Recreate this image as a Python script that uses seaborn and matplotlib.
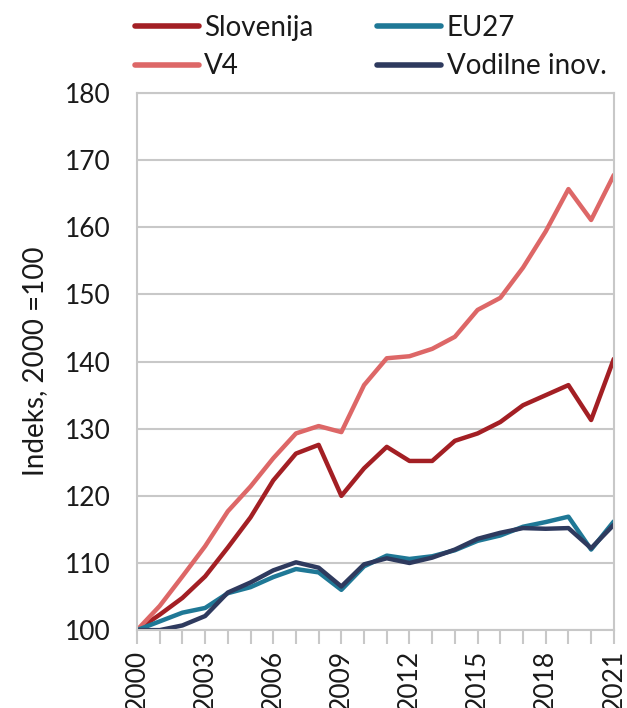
import numpy as np
import pandas as pd
import matplotlib
matplotlib.use("Agg")
import matplotlib.pyplot as plt
from matplotlib.ticker import MultipleLocator
import seaborn as sns

# ----- data -----
years = list(range(2000, 2022))
slovenija = [100, 102.3, 104.8, 108.0, 112.3, 116.8, 122.3, 126.3, 127.6, 120.0, 124.1, 127.3,
             125.2, 125.2, 128.2, 129.3, 131.0, 133.5, 135.0, 136.5, 131.3, 140.4]
v4 = [100, 103.6, 108.0, 112.5, 117.7, 121.4, 125.6, 129.3, 130.4, 129.5, 136.5, 140.5,
      140.8, 141.9, 143.7, 147.7, 149.5, 154.0, 159.4, 165.7, 161.1, 167.8]
eu27 = [100, 101.3, 102.6, 103.3, 105.5, 106.4, 107.9, 109.1, 108.6, 106.0, 109.5, 111.1,
        110.6, 111.0, 111.9, 113.3, 114.1, 115.4, 116.1, 116.9, 112.0, 116.2]
vodilne = [100, 100.0, 100.7, 102.1, 105.6, 107.1, 108.9, 110.1, 109.3, 106.5, 109.8, 110.7,
           110.0, 110.8, 112.0, 113.6, 114.5, 115.2, 115.1, 115.2, 112.2, 115.7]
# order = column-wise legend fill (row 1: Slovenija, EU27; row 2: V4, Vodilne inov.)
series_names = ["Slovenija", "V4", "EU27", "Vodilne inov."]
colors = ["#a31f24", "#dd6767", "#1f7896", "#2e3a5e"]
tick_years = [2000, 2003, 2006, 2009, 2012, 2015, 2018, 2021]

df = pd.DataFrame({"Leto": years * 4,
                   "Indeks": slovenija + v4 + eu27 + vodilne,
                   "Serija": sum([[n] * len(years) for n in series_names], [])})

sns.set_style("white")
plt.rcParams["font.family"] = ["Lato", "DejaVu Sans"]

fig = plt.figure(figsize=(6.27, 7.08), dpi=100)
ax = fig.add_axes([0.2185, 0.110, 0.7605, 0.7585])

sns.lineplot(data=df, x="Leto", y="Indeks", hue="Serija", hue_order=series_names,
             palette=dict(zip(series_names, colors)), linewidth=3.2, ax=ax)

ax.set_xlim(2000, 2021)
ax.set_ylim(100, 180)
ax.yaxis.set_major_locator(MultipleLocator(10))
ax.set_xticks(tick_years)
ax.set_xticklabels([str(y) for y in tick_years], rotation=90)
ax.xaxis.set_minor_locator(MultipleLocator(1))
ax.grid(axis="y", color="#c8c8c8", linewidth=1.5)
ax.set_axisbelow(True)
for s in ax.spines.values():
    s.set_color("#c8c8c8")
    s.set_linewidth(1.5)
ax.tick_params(axis="y", length=0, labelsize=19, pad=19, colors="#1a1a1a")
ax.tick_params(axis="x", which="both", length=10, width=1.5, color="#c8c8c8",
               direction="out", bottom=True, labelsize=19, pad=4, labelcolor="#1a1a1a")
ax.set_xlabel("")
ax.set_ylabel("Indeks, 2000 =100", fontsize=20, labelpad=12, color="#1a1a1a")

handles, labels = ax.get_legend_handles_labels()
leg = ax.legend(handles, labels, ncol=2, loc="lower left", bbox_to_anchor=(-0.028, 1.005),
                frameon=False, fontsize=20, handlelength=2.3, handletextpad=0.2,
                columnspacing=2.3, labelspacing=0.45, borderaxespad=0.0)
for line in leg.get_lines():
    line.set_linewidth(4)
for t in leg.get_texts():
    t.set_color("#1a1a1a")

fig.savefig("out.png", dpi=100)
